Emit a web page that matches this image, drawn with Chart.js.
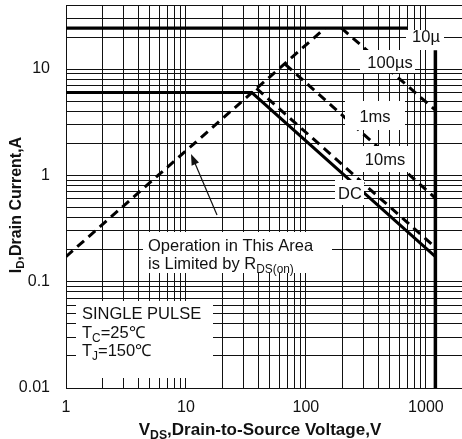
<!DOCTYPE html>
<html lang="en">
<head>
<meta charset="UTF-8">
<title>Safe Operating Area</title>
<script src="https://cdn.jsdelivr.net/npm/chart.js"></script>
<style>
    * { margin: 0; padding: 0; box-sizing: border-box; }
    body { background: #fff; width: 462px; height: 439px; overflow: hidden; }
    .wrap { position: relative; width: 462px; height: 439px; }
</style>
</head>
<body>
<div class="wrap"><canvas id="soaChart"></canvas></div>
<script>
// axis labels
const xTickLabels = [1, 10, 100, 1000];
const yTickLabels = [0.01, 0.1, 1, 10];

// curves: V_DS (V) / I_D (A)
const rdsV = [1, 144];
const rdsI = [0.172, 24.2];
const t10usV = [1, 700];
const t10usI = [24.2, 24.2];
const t100usV = [198, 1200];
const t100usI = [24.2, 4.1];
const t1msV = [67, 1200];
const t1msI = [11.1, 0.61];
const t10msV = [38.7, 1200];
const t10msI = [6.57, 0.21];
const dcV = [1, 35.4, 1200];
const dcI = [6.0, 6.0, 0.172];
const bvV = [1200, 1200];
const bvI = [0.01, 15];

const FONT = "'Liberation Sans', Arial, sans-serif";
const INK = '#111';

// 1..9 x 10^n grid values between lo and hi
function logGrid(lo, hi) {
    const out = [];
    for (let e = Math.floor(Math.log10(lo)); e <= Math.ceil(Math.log10(hi)); e++) {
        for (let k = 1; k <= 9; k++) {
            const v = Number((k * Math.pow(10, e)).toPrecision(6));
            if (v >= lo - 1e-9 && v <= hi + 1e-9) out.push(v);
        }
    }
    return out;
}

const pts = (xs, ys) => xs.map((x, i) => ({ x: x, y: ys[i] }));
const hasTick = (list, v) => list.some(t => Math.abs(t - v) / t < 1e-6);

function line(data, width, dashed) {
    return {
        data: data,
        borderColor: '#000',
        borderWidth: width,
        borderDash: dashed ? [9, 6] : [],
        pointRadius: 0,
        tension: 0,
        fill: false
    };
}

// text with "_xx" parts drawn as subscripts
function drawRich(ctx, parts, x, y, size, bold, align) {
    const f = s => (bold ? 'bold ' : '') + s + 'px ' + FONT;
    const items = parts.map(p => p.startsWith('_') ? { t: p.slice(1), sub: true } : { t: p, sub: false });
    let w = 0;
    items.forEach(it => { ctx.font = f(it.sub ? size * 0.72 : size); w += ctx.measureText(it.t).width; });
    let cx = align === 'center' ? x - w / 2 : (align === 'right' ? x - w : x);
    items.forEach(it => {
        ctx.font = f(it.sub ? size * 0.72 : size);
        ctx.fillText(it.t, cx, it.sub ? y + size * 0.22 : y);
        cx += ctx.measureText(it.t).width;
    });
}

// white label boxes [x0, y0, x1, y1] and their text
const boxes = [
    [406, 30, 444, 50],
    [360, 50, 415, 73],
    [345, 101, 405, 130],
    [358, 146, 412, 172],
    [335, 180, 364, 205],
    [143, 232, 332, 273],
    [76, 301, 213, 378]
];
const curveNotes = [
    ['10\u00b5', 426, 36],
    ['100\u00b5s', 390, 62],
    ['1ms', 375, 116],
    ['10ms', 385, 159],
    ['DC', 350, 193]
];

const notes = {
    id: 'notes',
    afterDatasetsDraw(chart) {
        const ctx = chart.ctx;
        ctx.save();
        ctx.fillStyle = '#fff';
        boxes.forEach(b => ctx.fillRect(b[0], b[1], b[2] - b[0], b[3] - b[1]));

        ctx.fillStyle = INK;
        ctx.textBaseline = 'alphabetic';
        ctx.textAlign = 'left';
        const s = 16.5;
        curveNotes.forEach(n => drawRich(ctx, [n[0]], n[1], n[2] + s * 0.36, s, false, 'center'));

        drawRich(ctx, ['Operation in This Area'], 148, 245 + s * 0.36, s, false, 'left');
        drawRich(ctx, ['is Limited by R', '_DS(on)'], 148, 263 + s * 0.36, s, false, 'left');

        drawRich(ctx, ['SINGLE PULSE'], 82, 313 + s * 0.36, s, false, 'left');
        drawRich(ctx, ['T', '_C', '=25\u2103'], 82, 332 + s * 0.36, s, false, 'left');
        drawRich(ctx, ['T', '_J', '=150\u2103'], 82, 350 + s * 0.36, s, false, 'left');

        // arrow to the R_DS(on) line
        const tail = [217, 215], tip = [191, 154];
        const a = Math.atan2(tip[1] - tail[1], tip[0] - tail[0]);
        ctx.strokeStyle = INK;
        ctx.lineWidth = 1.2;
        ctx.beginPath();
        ctx.moveTo(tail[0], tail[1]);
        ctx.lineTo(tip[0] - 8 * Math.cos(a), tip[1] - 8 * Math.sin(a));
        ctx.stroke();
        ctx.beginPath();
        ctx.moveTo(tip[0], tip[1]);
        ctx.lineTo(tip[0] - 11 * Math.cos(a) + 4 * Math.sin(a), tip[1] - 11 * Math.sin(a) - 4 * Math.cos(a));
        ctx.lineTo(tip[0] - 11 * Math.cos(a) - 4 * Math.sin(a), tip[1] - 11 * Math.sin(a) + 4 * Math.cos(a));
        ctx.closePath();
        ctx.fill();
        ctx.restore();
    },
    afterDraw(chart) {
        const ctx = chart.ctx;
        const ys = chart.scales.y;
        ctx.save();
        ctx.fillStyle = INK;
        // y tick labels, drawn here so the axis asks for no extra top padding
        ctx.textBaseline = 'middle';
        ctx.textAlign = 'right';
        ctx.font = '16px ' + FONT;
        yTickLabels.forEach(v => ctx.fillText(String(v), chart.chartArea.left - 16, ys.getPixelForValue(v)));

        ctx.textAlign = 'left';
        ctx.textBaseline = 'alphabetic';
        drawRich(ctx, ['V', '_DS', ',Drain-to-Source Voltage,V'], 260, 435, 17, true, 'center');
        ctx.translate(15, 205);
        ctx.rotate(-Math.PI / 2);
        drawRich(ctx, ['I', '_D', ',Drain Current,A'], 0, 16 * 0.36, 16, true, 'center');
        ctx.restore();
    }
};

const xGrid = logGrid(1, 1000);
const yGrid = logGrid(0.01, 40);

new Chart(document.getElementById('soaChart'), {
    type: 'line',
    data: {
        datasets: [
            line(pts(rdsV, rdsI), 3, true),
            line(pts(t10usV, t10usI), 3.2, false),
            line(pts(t100usV, t100usI), 3, true),
            line(pts(t1msV, t1msI), 3, true),
            line(pts(t10msV, t10msI), 3, true),
            line(pts(dcV, dcI), 3, false),
            line(pts(bvV, bvI), 3.5, false)
        ]
    },
    options: {
        responsive: true,
        maintainAspectRatio: false,
        animation: false,
        layout: { padding: { top: 5, right: 0, left: 0, bottom: 0 } },
        plugins: { legend: { display: false }, tooltip: { enabled: false } },
        scales: {
            x: {
                type: 'logarithmic',
                min: 1,
                max: 2000,
                afterBuildTicks: s => { s.ticks = xGrid.map(v => ({ value: v })); },
                afterFit: s => { s.height = 51; },
                grid: { color: INK, lineWidth: 1, drawTicks: false },
                border: { color: INK, width: 1 },
                ticks: {
                    autoSkip: false,
                    maxRotation: 0,
                    padding: 10,
                    color: INK,
                    font: { family: FONT, size: 16 },
                    callback: v => hasTick(xTickLabels, v) ? String(v) : ''
                }
            },
            y: {
                type: 'logarithmic',
                min: 0.01,
                max: 40,
                afterBuildTicks: s => { s.ticks = yGrid.map(v => ({ value: v })); },
                afterFit: s => { s.width = 66; },
                grid: { color: INK, lineWidth: 1, drawTicks: false },
                border: { color: INK, width: 1 },
                ticks: { display: false }
            }
        }
    },
    plugins: [notes]
});
</script>
</body>
</html>
